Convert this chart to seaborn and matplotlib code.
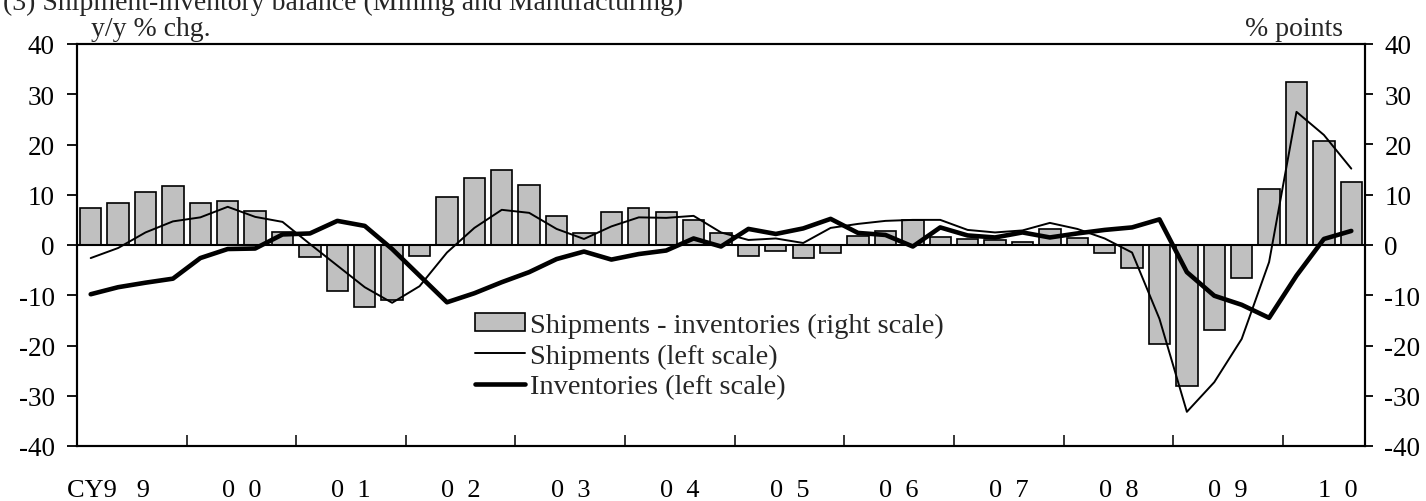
import numpy as np
import pandas as pd
import seaborn as sns
import matplotlib.pyplot as plt
from matplotlib.patches import Patch
from matplotlib.lines import Line2D

# quarterly data, CY1999 Q1 - CY2010 Q3
years = ["CY9   9       ", "0  0", "0  1", "0  2", "0  3", "0  4", "0  5", "0  6",
         "0  7", "0  8", "0  9", "1  0"]
quarters = [f"{1999 + i // 4}Q{i % 4 + 1}" for i in range(47)]

gap = [7.3, 8.4, 10.6, 11.7,
       8.4, 8.8, 6.7, 2.5,
       -2.3, -9.2, -12.4, -10.9,
       -2.2, 9.5, 13.3, 14.9,
       11.9, 5.8, 2.4, 6.5,
       7.3, 6.5, 5.0, 2.3,
       -2.1, -1.1, -2.6, -1.6,
       1.7, 2.7, 5.0, 1.5,
       1.1, 1.0, 0.5, 3.2,
       1.3, -1.6, -4.6, -19.7,
       -28.1, -17.0, -6.5, 11.2,
       32.5, 20.7, 12.6]

shipments = [-2.6, -0.6, 2.5, 4.7,
             5.5, 7.6, 5.6, 4.6,
             0.2, -4.1, -8.4, -11.5,
             -8.2, -1.5, 3.4, 7.0,
             6.4, 3.2, 1.2, 3.7,
             5.5, 5.4, 5.8, 2.5,
             1.0, 1.3, 0.4, 3.4,
             4.2, 4.8, 5.0, 5.0,
             3.0, 2.5, 2.9, 4.4,
             3.2, 1.3, -1.5, -14.7,
             -33.2, -27.3, -18.7, -3.4,
             26.5, 21.9, 15.2]

inventories = [-9.8, -8.4, -7.5, -6.7,
               -2.6, -0.8, -0.7, 2.1,
               2.3, 4.8, 3.8, -0.8,
               -6.1, -11.4, -9.6, -7.4,
               -5.4, -2.8, -1.3, -2.9,
               -1.8, -1.1, 1.3, -0.3,
               3.2, 2.2, 3.3, 5.2,
               2.4, 2.0, -0.3, 3.5,
               1.9, 1.5, 2.5, 1.5,
               2.3, 3.0, 3.5, 5.1,
               -5.4, -10.1, -11.9, -14.5,
               -6.1, 1.2, 2.8]

df = pd.DataFrame({"q": quarters, "gap": gap, "ship": shipments, "inv": inventories})
df["x"] = np.arange(len(df))

sns.set_theme(style="white")
plt.rcParams["font.family"] = ["Liberation Serif", "DejaVu Serif"]
plt.rcParams["axes.unicode_minus"] = False

fig = plt.figure(figsize=(14.26, 5.02), dpi=100)
ax = fig.add_axes([77 / 1426, 1 - 447 / 502, 1288 / 1426, 402 / 502])
ax_r = ax.twinx()

# bars on right scale, lines on left scale (drawn on top)
sns.barplot(data=df, x="x", y="gap", ax=ax_r, native_scale=True, width=0.78,
            color="#c0c0c0", edgecolor="black", linewidth=1.2, saturation=1)
sns.lineplot(data=df, x="x", y="ship", ax=ax, color="black", linewidth=1.4)
sns.lineplot(data=df, x="x", y="inv", ax=ax, color="black", linewidth=3.3)
ax.set_zorder(ax_r.get_zorder() + 1)
ax.patch.set_visible(False)
ax_r.axhline(0, color="black", linewidth=1.5)

for a in (ax, ax_r):
    a.set_ylim(-40, 40)
    a.set_xlim(-0.5, len(df) - 0.5)
    a.set_yticks(range(-40, 41, 10))
    a.set_xlabel("")
    a.set_ylabel("")
    for s in a.spines.values():
        s.set_color("black")
        s.set_linewidth(1.5)

ax.tick_params(axis="y", direction="out", length=7, width=1.3, pad=9, labelsize=19.5,
               left=True, labelleft=True, colors="black")
ax_r.tick_params(axis="y", direction="out", length=6, width=1.3, pad=8, labelsize=19.5,
                 right=True, labelright=True, colors="black")

# year boundaries as inward ticks, year names centred below
ax.set_xticks(np.arange(-0.5, len(df) - 1, 4))
ax.set_xticklabels([])
ax.tick_params(axis="x", which="major", direction="in", length=8, width=1.3, bottom=True)
ax.set_xticks(np.arange(1.5, 4 * len(years), 4), minor=True)
ax.set_xticklabels(years, minor=True)
ax.tick_params(axis="x", which="minor", length=0, pad=24, labelsize=19, colors="black")
ax_r.tick_params(axis="x", bottom=False, top=False, labelbottom=False)

ax.text(14 / 1288, 1 + 9 / 402, "y/y % chg.", transform=ax.transAxes, fontsize=20,
        va="baseline", ha="left")
ax.text(1 - 22 / 1288, 1 + 9 / 402, "% points", transform=ax.transAxes, fontsize=20,
        va="baseline", ha="right")
fig.text(3 / 1426, 1 - 10 / 502, "(3) Shipment-inventory balance (Mining and Manufacturing)",
         fontsize=20, va="baseline", ha="left")

handles = [Patch(facecolor="#c0c0c0", edgecolor="black", linewidth=1.2),
           Line2D([], [], color="black", linewidth=1.4),
           Line2D([], [], color="black", linewidth=3.3)]
labels = ["Shipments - inventories (right scale)", "Shipments (left scale)",
          "Inventories (left scale)"]
leg = ax.legend(handles, labels, loc="upper left", bbox_to_anchor=(0.3, 0.36),
                frameon=False, fontsize=20.5, handlelength=1.75, handleheight=0.6,
                handletextpad=0.2, labelspacing=0.2, borderaxespad=0)

fig.savefig("out.png", dpi=100)
